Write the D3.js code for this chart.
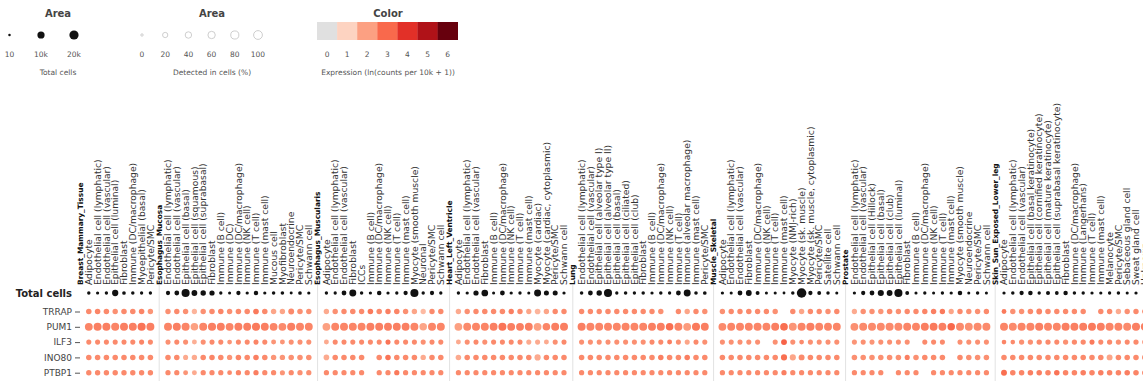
<!DOCTYPE html>
<html>
<head>
<meta charset="utf-8">
<script src="https://cdn.jsdelivr.net/npm/d3@7"></script>
<style>
body { margin: 0; background: #fff; overflow: hidden; }
text { font-family: "DejaVu Sans", sans-serif; }
</style>
</head>
<body>
<script>
var TISSUES = ["Breast_Mammary_Tissue", "Esophagus_Mucosa", "Esophagus_Muscularis", "Heart_Left_Ventricle",
	"Lung", "Muscle_Skeletal", "Prostate", "Skin_Sun_Exposed_Lower_leg"];

var CELL_TYPES = [
	["Adipocyte", "Endothelial cell (lymphatic)", "Endothelial cell (vascular)", "Epithelial cell (luminal)", "Fibroblast",
	 "Immune (DC/macrophage)", "Myoepithelial (basal)", "Pericyte/SMC"],
	["Endothelial cell (lymphatic)", "Endothelial cell (vascular)", "Epithelial cell (basal)", "Epithelial cell (squamous)",
	 "Epithelial cell (suprabasal)", "Fibroblast", "Immune (B cell)", "Immune (DC)", "Immune (DC/macrophage)", "Immune (NK cell)",
	 "Immune (T cell)", "Immune (mast cell)", "Mucous cell", "Myofibroblast", "Neuroendocrine", "Pericyte/SMC", "Schwann cell"],
	["Adipocyte", "Endothelial cell (lymphatic)", "Endothelial cell (vascular)", "Fibroblast", "ICCs", "Immune (B cell)",
	 "Immune (DC/macrophage)", "Immune (NK cell)", "Immune (T cell)", "Immune (mast cell)", "Myocyte (smooth muscle)", "Neuronal",
	 "Pericyte/SMC", "Schwann cell"],
	["Adipocyte", "Endothelial cell (lymphatic)", "Endothelial cell (vascular)", "Fibroblast", "Immune (B cell)",
	 "Immune (DC/macrophage)", "Immune (NK cell)", "Immune (T cell)", "Immune (mast cell)", "Myocyte (cardiac)",
	 "Myocyte (cardiac, cytoplasmic)", "Pericyte/SMC", "Schwann cell"],
	["Endothelial cell (lymphatic)", "Endothelial cell (vascular)", "Epithelial cell (alveolar type I)",
	 "Epithelial cell (alveolar type II)", "Epithelial cell (basal)", "Epithelial cell (ciliated)", "Epithelial cell (club)",
	 "Fibroblast", "Immune (B cell)", "Immune (DC/macrophage)", "Immune (NK cell)", "Immune (T cell)",
	 "Immune (alveolar macrophage)", "Immune (mast cell)", "Pericyte/SMC"],
	["Adipocyte", "Endothelial cell (lymphatic)", "Endothelial cell (vascular)", "Fibroblast", "Immune (DC/macrophage)",
	 "Immune (NK cell)", "Immune (T cell)", "Immune (mast cell)", "Myocyte (NMJ-rich)", "Myocyte (sk. muscle)",
	 "Myocyte (sk. muscle, cytoplasmic)", "Pericyte/SMC", "Satellite cell", "Schwann cell"],
	["Endothelial cell (lymphatic)", "Endothelial cell (vascular)", "Epithelial cell (Hillock)", "Epithelial cell (basal)",
	 "Epithelial cell (club)", "Epithelial cell (luminal)", "Fibroblast", "Immune (B cell)", "Immune (DC/macrophage)",
	 "Immune (NK cell)", "Immune (T cell)", "Immune (mast cell)", "Myocyte (smooth muscle)", "Neuroendocrine", "Pericyte/SMC",
	 "Schwann cell"],
	["Adipocyte", "Endothelial cell (lymphatic)", "Endothelial cell (vascular)", "Epithelial cell (basal keratinocyte)",
	 "Epithelial cell (cornified keratinocyte)", "Epithelial cell (mature keratinocyte)", "Epithelial cell (suprabasal keratinocyte)",
	 "Fibroblast", "Immune (DC/macrophage)", "Immune (Langerhans)", "Immune (T cell)", "Immune (mast cell)", "Melanocyte",
	 "Pericyte/SMC", "Sebaceous gland cell", "Sweat gland cell", "Unknown"]
];

// total cells per cell type (same order as CELL_TYPES, flattened)
var TOTAL_CELLS = [
	450, 300, 400, 6500, 700, 500, 350, 400,
	1500, 2500, 14000, 5000, 4000, 3500, 400, 200, 1500, 300, 1800, 300, 600, 600, 150, 700, 300,
	400, 350, 2500, 9000, 500, 300, 2000, 300, 400, 1500, 14000, 400, 1500, 400,
	400, 300, 3500, 8000, 200, 2500, 300, 400, 200, 9000, 3000, 3000, 300,
	600, 2500, 4000, 14000, 400, 600, 400, 500, 300, 500, 400, 2500, 9000, 600, 700,
	300, 200, 2500, 5000, 1000, 200, 200, 100, 500, 22000, 1500, 1000, 500, 200,
	300, 1500, 2500, 6000, 5000, 14000, 1000, 200, 400, 200, 400, 300, 2000, 200, 500, 200,
	300, 500, 1500, 2000, 400, 1200, 800, 1800, 500, 400, 300, 300, 400, 500, 200, 300, 300
];

var GENES = ["TRRAP", "PUM1", "ILF3", "INO80", "PTBP1"];

// mean expression, ln(counts per 10k + 1); null = not shown
var TRRAP_EXPR = [
	2.4, 2.5, 2.4, 2.3, 2.4, 2.4, 2.5, 2.2,
	2.3, 2.4, 2.3, 1.6, 2.3, 2.4, 2.5, 2.3, 2.4, 2.4, 2.7, 2.4, 1.9, 1.9, 2.4, 2.3, 2.3,
	1.8, 2.3, 2.4, 2.4, 2.4, 2.7, 2.4, 2.6, 2.5, 2.3, 1.9, 1.5, 2.4, 2.4,
	1.8, 2.3, 2.4, 2.4, 2.4, 2.4, 2.6, 2.4, 1.9, 1.6, 1.9, 2.4, 2.4,
	2.4, 2.4, 2.4, 2.4, 2.4, 2.4, 2.4, 2.4, 2.4, 2.3, null, 2.4, 1.9, 2.4, 2.3,
	2.3, 2.4, 2.4, 2.4, 2.4, 2.4, 2.3, null, 2.4, 1.9, 2.4, 2.4, 2.3, 2.4,
	1.8, 2.3, 2.3, 2.2, 2.4, 2.3, 2.4, 2.4, 2.5, 2.6, 2.7, 1.9, 2.4, 2.3, 2.3, 2.4,
	2.7, 2.3, 2.3, 2.4, 2.5, 2.4, 2.4, 2.4, 2.4, 2.4, null, 2.4, 2.4, 1.8, 2.3, 2.4, 2.4
];
var PUM1_EXPR = [
	2.5, 2.6, 2.6, 2.5, 2.6, 2.6, 2.8, 2.6,
	2.5, 2.6, 2.5, 2.0, 2.5, 2.6, 2.6, 2.5, 2.6, 2.6, 2.7, 2.6, 2.5, 2.4, 2.6, 2.5, 2.5,
	2.0, 2.5, 2.5, 2.5, 2.5, 2.6, 2.6, 2.6, 2.6, 2.6, 2.5, 1.9, 2.5, 2.5,
	2.0, 2.4, 2.5, 2.5, 2.6, 2.8, 2.6, 2.6, 2.6, 2.0, 2.5, 2.6, 2.6,
	2.6, 2.5, 2.5, 2.5, 2.5, 2.5, 2.5, 2.5, 2.6, 2.6, 2.9, 2.5, 2.1, 2.7, 2.6,
	2.4, 2.5, 2.5, 2.5, 2.5, 2.5, 2.6, 2.9, 2.2, 2.5, 2.6, 2.5, 2.5, 2.5,
	2.3, 2.4, 2.4, 2.4, 2.4, 2.4, 2.5, 2.5, 2.6, 2.7, 2.6, 3.0, 2.4, 2.3, 2.4, 2.4,
	2.5, 2.4, 2.5, 2.5, 2.6, 2.5, 2.5, 2.6, 2.6, 2.6, 2.7, 2.6, 2.5, 2.5, 2.4, 2.6, 2.6
];
var ILF3_EXPR = [
	2.4, 2.4, 2.4, 2.4, 2.4, 2.4, 2.5, 2.4,
	2.3, 2.4, 2.3, 1.7, 2.3, 2.4, 2.4, 2.2, 2.4, 2.4, 2.5, 2.4, 2.2, 2.2, 2.3, 2.3, 2.3,
	1.8, 2.4, 2.4, 2.4, 2.4, 2.4, 2.4, 2.8, 2.4, 2.4, 2.4, 2.3, 2.4, 2.4,
	1.8, 2.3, 2.4, 2.3, 2.4, 2.4, 2.4, 2.4, 1.8, 1.8, 1.8, 2.3, 2.4,
	2.3, 2.3, 2.3, 2.3, 2.3, 2.3, 2.3, 2.3, 2.4, 2.4, 2.6, 2.3, 1.9, 2.4, 2.3,
	2.3, 2.3, 2.3, 2.3, 2.3, null, 2.3, 3.1, 2.3, 2.4, 2.3, 2.3, 2.3, 2.3,
	2.2, 2.3, 2.2, 2.3, 2.3, 2.3, 2.3, null, 2.4, 2.4, 2.4, null, 2.3, 2.3, 2.3, 2.3,
	2.5, 2.4, 2.3, 2.3, 2.4, 2.4, 2.4, 2.3, 2.4, 2.4, 2.7, 2.4, 2.4, 2.3, 2.4, 2.4, 2.4
];
var INO80_EXPR = [
	2.4, 2.4, 2.4, 2.4, 2.4, 2.4, 2.4, 2.4,
	2.4, 2.4, 1.8, 1.8, 2.4, 2.5, 2.4, 2.2, 2.5, 2.4, 2.6, 2.4, 2.2, 2.2, 2.3, 2.3, 2.3,
	1.8, 2.4, 2.4, 2.4, 2.4, null, 2.4, 2.8, 2.4, 2.4, 2.4, 1.8, 2.4, 2.4,
	1.8, 2.4, 2.4, 2.4, 2.4, 2.4, 2.4, 2.4, 2.4, 1.8, 2.4, 2.4, 2.4,
	2.4, 2.4, 2.4, 2.4, 2.4, 2.4, 2.4, 2.4, 2.4, 2.6, 2.4, 2.4, 2.6, 2.4, 2.4,
	2.4, 2.4, 2.4, 2.4, 2.4, 2.4, 2.4, 2.9, 1.9, 2.4, 2.4, 2.4, 2.4, 2.4,
	2.3, 2.3, 2.3, 2.3, 2.3, 2.3, 2.6, 2.3, 2.4, 2.4, 2.4, null, 2.4, 2.3, 2.3, 2.3,
	2.4, 2.4, 2.4, 2.4, 2.4, 2.4, 2.4, 2.4, 2.4, 2.4, 2.4, 2.4, 1.9, 2.4, 2.4, 2.4, 2.4
];
var PTBP1_EXPR = [
	2.4, 2.4, 2.4, 2.4, 2.4, 2.4, 2.4, 2.4,
	2.4, 2.4, 2.2, 1.8, 2.4, 2.4, 2.4, 2.4, 2.5, 2.4, 2.6, 2.4, 2.4, 2.2, 2.4, 2.3, 2.3,
	2.4, 2.4, 2.4, 2.4, 2.4, null, 2.4, 2.4, 2.7, 2.4, 2.4, 2.4, 2.4, 2.4,
	2.4, 2.4, 2.4, 2.4, 2.4, 2.4, 2.4, 2.4, 2.4, 2.4, 2.4, 2.4, 2.4,
	2.4, 2.4, 2.4, 2.4, 2.4, 2.4, 2.4, 2.4, 2.4, 2.4, 2.4, 2.4, 2.4, 2.4, 2.4,
	2.4, 2.4, 2.4, 2.4, 2.4, 2.4, 2.4, 2.6, 2.4, 2.4, 2.4, 2.4, 2.4, 2.4,
	2.4, 2.4, 2.4, 2.4, null, 2.4, 2.4, 2.4, null, 2.4, 2.4, 2.4, 2.4, 2.4, 2.4, 2.4,
	2.9, 2.5, 2.5, 2.6, 2.6, 2.5, 2.8, 2.5, 2.5, 2.6, 2.5, 2.6, 2.5, 2.5, 2.6, 2.5, 2.5
];

// detected in cells (%)
var TRRAP_PCT = [
	24, 24, 24, 22, 24, 24, 24, 22,
	22, 22, 22, 20, 22, 24, 24, 22, 24, 24, 26, 24, 22, 22, 30, 24, 22,
	22, 22, 22, 24, 22, 24, 24, 22, 24, 22, 22, 20, 22, 22,
	22, 22, 22, 24, 22, 24, 22, 22, 20, 26, 22, 22, 22,
	22, 22, 22, 24, 22, 22, 22, 22, 22, 22, 0, 22, 22, 22, 22,
	22, 22, 22, 24, 22, 22, 22, 0, 22, 22, 22, 22, 22, 22,
	20, 22, 22, 22, 24, 22, 22, 22, 22, 22, 22, 20, 22, 22, 22, 22,
	14, 22, 22, 24, 28, 24, 22, 22, 22, 22, 0, 22, 22, 22, 22, 22, 22
];
var PUM1_PCT = [
	72, 76, 76, 78, 76, 76, 80, 76,
	76, 76, 78, 66, 76, 80, 76, 72, 76, 74, 78, 74, 72, 72, 80, 76, 74,
	70, 74, 76, 76, 74, 76, 76, 74, 74, 74, 76, 64, 76, 76,
	70, 74, 76, 76, 74, 78, 72, 72, 74, 70, 66, 76, 76,
	76, 76, 76, 76, 76, 76, 74, 76, 74, 76, 66, 76, 72, 78, 74,
	72, 74, 76, 76, 76, 74, 76, 68, 74, 76, 80, 74, 74, 74,
	72, 76, 76, 76, 78, 76, 76, 74, 76, 74, 74, 64, 76, 74, 76, 76,
	76, 76, 78, 78, 80, 76, 76, 78, 76, 76, 74, 76, 76, 76, 76, 78, 76
];
var ILF3_PCT = [
	18, 18, 18, 18, 18, 18, 18, 18,
	18, 18, 18, 16, 18, 18, 18, 14, 18, 18, 18, 18, 16, 16, 18, 18, 18,
	16, 18, 18, 18, 18, 18, 18, 18, 18, 18, 18, 18, 18, 18,
	16, 18, 18, 18, 18, 18, 18, 18, 18, 18, 16, 18, 18,
	18, 18, 18, 18, 18, 18, 18, 18, 18, 18, 16, 18, 18, 18, 18,
	18, 18, 18, 18, 18, 0, 18, 30, 18, 14, 18, 18, 18, 18,
	18, 18, 18, 18, 18, 18, 18, 0, 18, 18, 18, 0, 18, 18, 18, 18,
	12, 12, 20, 20, 22, 20, 18, 20, 20, 20, 18, 18, 20, 20, 18, 20, 20
];
var INO80_PCT = [
	24, 24, 24, 24, 24, 24, 24, 24,
	24, 24, 18, 22, 24, 24, 24, 20, 24, 24, 24, 24, 22, 22, 24, 24, 24,
	26, 24, 24, 24, 24, 0, 24, 24, 24, 24, 24, 22, 24, 24,
	24, 24, 24, 24, 24, 24, 24, 24, 24, 36, 24, 24, 24,
	24, 24, 24, 24, 24, 24, 24, 24, 24, 24, 24, 24, 24, 24, 24,
	24, 24, 24, 24, 24, 24, 24, 34, 34, 30, 24, 24, 24, 24,
	24, 24, 24, 24, 24, 24, 18, 24, 24, 24, 24, 0, 24, 24, 24, 24,
	24, 24, 24, 24, 24, 24, 24, 24, 24, 24, 24, 24, 30, 24, 24, 24, 24
];
var PTBP1_PCT = [
	22, 22, 22, 22, 22, 22, 22, 22,
	20, 20, 16, 16, 20, 20, 20, 14, 20, 20, 20, 20, 20, 18, 20, 20, 20,
	20, 20, 20, 20, 20, 0, 20, 20, 20, 20, 20, 20, 20, 20,
	20, 20, 20, 20, 20, 20, 20, 20, 20, 20, 20, 20, 20,
	20, 20, 20, 20, 20, 20, 20, 20, 20, 20, 20, 20, 20, 20, 20,
	20, 20, 20, 20, 20, 20, 20, 20, 20, 20, 20, 20, 20, 20,
	20, 20, 20, 20, 0, 20, 20, 20, 0, 20, 20, 20, 20, 20, 20, 20,
	30, 24, 24, 24, 24, 24, 24, 24, 24, 24, 24, 24, 24, 24, 24, 24, 24
];

var GENE_EXPR = {TRRAP: TRRAP_EXPR, PUM1: PUM1_EXPR, ILF3: ILF3_EXPR, INO80: INO80_EXPR, PTBP1: PTBP1_EXPR};
var GENE_PCT = {TRRAP: TRRAP_PCT, PUM1: PUM1_PCT, ILF3: ILF3_PCT, INO80: INO80_PCT, PTBP1: PTBP1_PCT};

var CELL_TICKS = [10, 10000, 20000];
var CELL_TICK_LABELS = ["10", "10k", "20k"];
var PCT_TICKS = [0, 20, 40, 60, 80, 100];
var EXPR_TICKS = [0, 1, 2, 3, 4, 5, 6];

var W = 1143, H = 381;

var svg = d3.select("body").append("svg")
	.attr("width", W).attr("height", H);

// build column list: one header column per tissue, then its cell types
var columns = [];
var k = 0;
TISSUES.forEach(function(t, ti) {
	columns.push({kind: "tissue", label: t});
	CELL_TYPES[ti].forEach(function(c) {
		columns.push({kind: "cell", label: c, tissue: t, idx: k});
		k++;
	});
});

// scales
var x = d3.scalePoint()
	.domain(d3.range(columns.length))
	.range([80, 80 + 8.8 * (columns.length - 1)]);

var yGene = d3.scalePoint().domain(GENES).range([311.5, 372.7]);
var yTotal = 293;

var rCells = d3.scaleSqrt().domain([0, 20000]).range([1.2, 4.6]);
var rPct = d3.scaleSqrt().domain([0, 100]).range([1.2, 4.4]);

var legendColors = ["#e0e0e0"].concat(d3.range(1, 7).map(function(v) { return d3.interpolateReds(v / 6); }));
var color = d3.scaleLinear().domain(EXPR_TICKS).range(legendColors).clamp(true);

// ---- Legends
var lg = svg.append("g").attr("class", "legends");

var titleStyle = function(sel) {
	sel.attr("text-anchor", "middle").style("font-size", "10px").style("font-weight", "bold").attr("fill", "#444");
};
var labStyle = function(sel) {
	sel.attr("text-anchor", "middle").style("font-size", "7.5px").attr("fill", "#555");
};

// total cells legend
var lx1 = [9.5, 41, 74];
lg.append("text").attr("x", 58).attr("y", 16.5).text("Area").call(titleStyle);
lg.selectAll(".lc").data(CELL_TICKS).enter().append("circle")
	.attr("cx", function(d, i) { return lx1[i]; }).attr("cy", 35)
	.attr("r", function(d) { return rCells(d); }).attr("fill", "#111");
lg.selectAll(".lct").data(CELL_TICK_LABELS).enter().append("text")
	.attr("x", function(d, i) { return lx1[i]; }).attr("y", 57)
	.text(function(d) { return d; }).call(labStyle);
lg.append("text").attr("x", 58).attr("y", 74.5).text("Total cells").call(labStyle);

// detected legend
var px = d3.scaleLinear().domain([0, 100]).range([142, 258]);
lg.append("text").attr("x", 212).attr("y", 16.5).text("Area").call(titleStyle);
lg.selectAll(".lp").data(PCT_TICKS).enter().append("circle")
	.attr("cx", function(d) { return px(d); }).attr("cy", 35)
	.attr("r", function(d) { return rPct(d); })
	.attr("fill", "none").attr("stroke", "#c8c8c8").attr("stroke-width", 0.9);
lg.selectAll(".lpt").data(PCT_TICKS).enter().append("text")
	.attr("x", function(d) { return px(d); }).attr("y", 57)
	.text(function(d) { return d; }).call(labStyle);
lg.append("text").attr("x", 212).attr("y", 74.5).text("Detected in cells (%)").call(labStyle);

// colour legend
var cw = 20.1;
var cx0 = 317;
lg.append("text").attr("x", 388).attr("y", 16.5).text("Color").call(titleStyle);
lg.selectAll(".lcol").data(EXPR_TICKS).enter().append("rect")
	.attr("x", function(d) { return cx0 + d * cw; }).attr("y", 22)
	.attr("width", cw + 0.3).attr("height", 18)
	.attr("fill", function(d) { return color(d); });
lg.selectAll(".lcolt").data(EXPR_TICKS).enter().append("text")
	.attr("x", function(d) { return cx0 + d * cw + cw / 2; }).attr("y", 57)
	.text(function(d) { return d; }).call(labStyle);
lg.append("text").attr("x", 388).attr("y", 74.5).text("Expression (ln(counts per 10k + 1))").call(labStyle);

// ---- Separators between tissues
svg.append("g").selectAll("line")
	.data(columns.map(function(c, i) { return i; }).filter(function(i) { return columns[i].kind === "tissue" && i > 0; }))
	.enter().append("line")
	.attr("x1", function(i) { return x(i); }).attr("x2", function(i) { return x(i); })
	.attr("y1", 285).attr("y2", H)
	.attr("stroke", "#e2e2e2").attr("stroke-width", 1);

// ---- Column labels
svg.append("g").attr("class", "colLabels").selectAll("text")
	.data(columns.map(function(c, i) { return {c: c, i: i}; }))
	.enter().append("text")
	.attr("transform", function(d) { return "translate(" + x(d.i) + ",285) rotate(-90)"; })
	.attr("dy", "0.35em")
	.attr("text-anchor", "start")
	.style("font-size", function(d) { return d.c.kind === "tissue" ? "7.4px" : "9.2px"; })
	.style("font-weight", function(d) { return d.c.kind === "tissue" ? "bold" : "normal"; })
	.attr("fill", function(d) { return d.c.kind === "tissue" ? "#111" : "#333"; })
	.text(function(d) { return d.c.label; });

// ---- Row labels
svg.append("text").attr("x", 72).attr("y", yTotal).attr("dy", "0.35em")
	.attr("text-anchor", "end").style("font-size", "10px").style("font-weight", "bold")
	.attr("fill", "#222").text("Total cells");

var yAxis = svg.append("g").attr("transform", "translate(80,0)")
	.call(d3.axisLeft(yGene).tickSize(5).tickPadding(3));
yAxis.select(".domain").remove();
yAxis.selectAll("line").attr("stroke", "#555");
yAxis.selectAll("text").style("font-family", "'DejaVu Sans', sans-serif").style("font-size", "9px").attr("fill", "#444");

var cellCols = columns.map(function(c, i) { return {c: c, i: i}; }).filter(function(d) { return d.c.kind === "cell"; });

// ---- Total cells dots
svg.append("g").selectAll("circle").data(cellCols).enter().append("circle")
	.attr("cx", function(d) { return x(d.i); })
	.attr("cy", yTotal)
	.attr("r", function(d) { return rCells(TOTAL_CELLS[d.c.idx]); })
	.attr("fill", "#111");

// ---- Gene dots
GENES.forEach(function(g) {
	var pts = cellCols.filter(function(d) { return GENE_EXPR[g][d.c.idx] != null; });
	svg.append("g").attr("class", "gene-" + g).selectAll("circle").data(pts).enter().append("circle")
		.attr("cx", function(d) { return x(d.i); })
		.attr("cy", yGene(g))
		.attr("r", function(d) { return rPct(GENE_PCT[g][d.c.idx]); })
		.attr("fill", function(d) { return color(GENE_EXPR[g][d.c.idx]); });
});
</script>
</body>
</html>
